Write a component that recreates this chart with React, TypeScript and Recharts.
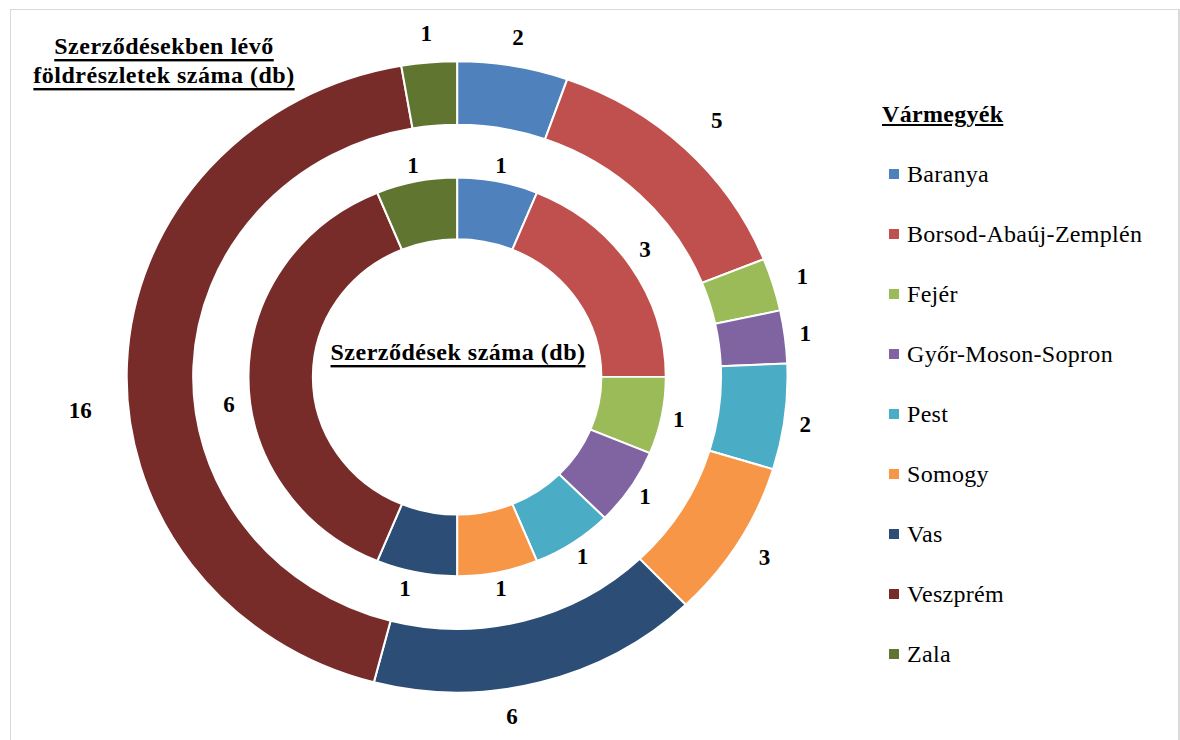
import React from "react";
import { PieChart, Pie, Cell, Legend } from "recharts";

const COUNTIES = [
  "Baranya",
  "Borsod-Abaúj-Zemplén",
  "Fejér",
  "Győr-Moson-Sopron",
  "Pest",
  "Somogy",
  "Vas",
  "Veszprém",
  "Zala",
];

// külső gyűrű: földrészletek száma
const PARCELS = [2, 5, 1, 1, 2, 3, 6, 16, 1];
// belső gyűrű: szerződések száma
const CONTRACTS = [1, 3, 1, 1, 1, 1, 1, 6, 1];

const COLORS = [
  "#4F81BD",
  "#C0504D",
  "#9BBB59",
  "#8064A2",
  "#4BACC6",
  "#F79646",
  "#2C4D75",
  "#772C2A",
  "#5F7530",
];

const RAD = Math.PI / 180;
const CX = 452;
const CY = 372;
// the original rings are slightly wider than tall
const SX = 1.023;
const SY = 0.977;

// hand-moved labels in the original (pixel nudges by slice index)
const OUTER_NUDGE: Record<number, [number, number]> = {
  1: [10, -8],
  3: [-10, 0],
  4: [-10, 4],
  6: [-36, 6],
  7: [-16, 48],
};
const INNER_NUDGE: Record<number, [number, number]> = {
  1: [0, -8],
  6: [-8, 0],
  7: [-2, 27],
};

const outerData = COUNTIES.map((name, i) => ({ name, value: PARCELS[i] }));
const innerData = COUNTIES.map((name, i) => ({ name, value: CONTRACTS[i] }));

function makeLabel(offset: number, nudge: Record<number, [number, number]>) {
  return (props: any) => {
    const { cx, cy, midAngle, outerRadius, value, index } = props;
    const r = outerRadius + offset;
    const [dx, dy] = nudge[index] ?? [0, 0];
    const x = cx + r * SX * Math.cos(-midAngle * RAD) + dx;
    const y = cy + r * SY * Math.sin(-midAngle * RAD) + dy;
    return (
      <text
        key={`lbl-${index}`}
        x={x}
        y={y}
        textAnchor="middle"
        dominantBaseline="central"
        fontSize={23}
        fontWeight={700}
        fill="#000"
      >
        {value}
      </text>
    );
  };
}

function LegendBox() {
  return (
    <div style={{ color: "#000" }}>
      <div
        style={{
          fontSize: 24,
          fontWeight: 700,
          textDecoration: "underline",
          lineHeight: "28px",
          marginBottom: 16,
          letterSpacing: 0.3,
        }}
      >
        Vármegyék
      </div>
      {COUNTIES.map((name, i) => (
        <div
          key={name}
          style={{
            display: "flex",
            alignItems: "center",
            height: 60,
            fontSize: 24,
            letterSpacing: 0.3,
          }}
        >
          <span
            style={{
              width: 10,
              height: 10,
              background: COLORS[i],
              marginLeft: 7,
              marginRight: 8,
              display: "inline-block",
            }}
          />
          <span>{name}</span>
        </div>
      ))}
    </div>
  );
}

const css = `
.ring .recharts-pie-sector {
  transform: scale(${SX}, ${SY});
  transform-origin: ${CX}px ${CY}px;
}
`;

const titleProps = {
  textAnchor: "middle" as const,
  dominantBaseline: "central" as const,
  fontSize: 24,
  fontWeight: 700,
  letterSpacing: 0.5,
  textDecoration: "underline",
  fill: "#000",
};

export default function App() {
  return (
    <div
      style={{
        position: "absolute",
        left: 0,
        top: 0,
        width: 1180,
        height: 740,
        background: "#fff",
        overflow: "hidden",
      }}
    >
      <style>{css}</style>
      <div
        style={{
          position: "absolute",
          left: 10,
          top: 9,
          width: 1167,
          height: 760,
          border: "1px solid #d9d9d9",
          borderRightWidth: 2,
        }}
      />
      <PieChart width={1180} height={740}>
        <Pie
          className="ring"
          data={outerData}
          dataKey="value"
          cx={CX}
          cy={CY}
          innerRadius={258}
          outerRadius={323}
          startAngle={90}
          endAngle={-270}
          stroke="#fff"
          strokeWidth={2}
          label={makeLabel(30, OUTER_NUDGE)}
          labelLine={false}
          isAnimationActive={false}
        >
          {outerData.map((d, i) => (
            <Cell key={`o-${i}`} fill={COLORS[i]} />
          ))}
        </Pie>
        <Pie
          className="ring"
          data={innerData}
          dataKey="value"
          cx={CX}
          cy={CY}
          innerRadius={141}
          outerRadius={204}
          startAngle={90}
          endAngle={-270}
          stroke="#fff"
          strokeWidth={2}
          label={makeLabel(17, INNER_NUDGE)}
          labelLine={false}
          isAnimationActive={false}
        >
          {innerData.map((d, i) => (
            <Cell key={`i-${i}`} fill={COLORS[i]} />
          ))}
        </Pie>
        <Legend
          layout="vertical"
          verticalAlign="top"
          align="right"
          content={() => <LegendBox />}
          wrapperStyle={{ position: "absolute", left: 882, top: 100, width: 290 }}
        />
        <text x={164} y={46} {...titleProps}>
          Szerződésekben lévő
        </text>
        <text x={164} y={75} {...titleProps}>
          földrészletek száma (db)
        </text>
        <text x={458} y={352} {...titleProps}>
          Szerződések száma (db)
        </text>
      </PieChart>
    </div>
  );
}
